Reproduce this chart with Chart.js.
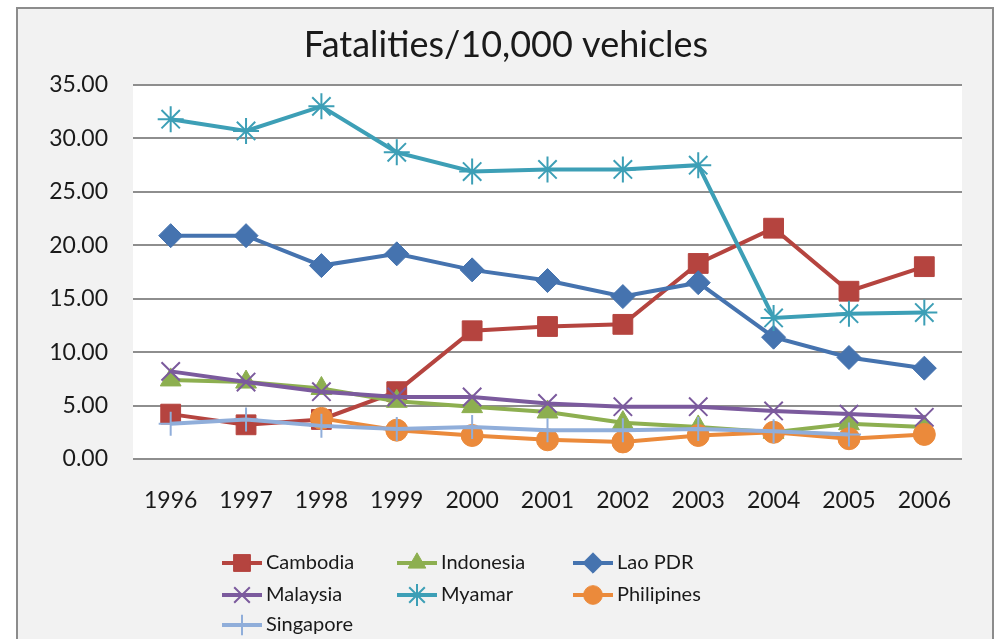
<!DOCTYPE html>
<html>
<head>
<meta charset="utf-8">
<script src="https://cdn.jsdelivr.net/npm/chart.js@4/dist/chart.umd.min.js"></script>
<style>
    body { margin: 0; background: #ffffff; overflow: hidden; }
    #frame {
        position: absolute; left: 16px; top: 7px; width: 974px; height: 640px;
        border: 2px solid #8c8c8c; background: #f2f2f2;
    }
    #fatalitiesChart { position: absolute; left: 0; top: 0; }
</style>
</head>
<body>
<div id="frame"></div>
<canvas id="fatalitiesChart" width="994" height="639"></canvas>
<script>
// Fatalities per 10,000 vehicles, ASEAN countries 1996-2006

const years = ['1996', '1997', '1998', '1999', '2000', '2001', '2002', '2003', '2004', '2005', '2006'];

const cambodia   = [4.2, 3.2, 3.7, 6.3, 12.0, 12.4, 12.6, 18.3, 21.6, 15.7, 18.0];
const indonesia  = [7.4, 7.2, 6.6, 5.4, 4.9, 4.4, 3.4, 3.0, 2.5, 3.3, 3.0];
const laoPdr     = [20.9, 20.9, 18.1, 19.2, 17.7, 16.7, 15.2, 16.5, 11.4, 9.5, 8.5];
const malaysia   = [8.2, 7.2, 6.3, 5.8, 5.8, 5.2, 4.9, 4.9, 4.5, 4.2, 3.9];
const myamar     = [31.8, 30.7, 33.0, 28.7, 26.9, 27.1, 27.1, 27.5, 13.2, 13.6, 13.7];
const philipines = [null, null, 3.8, 2.7, 2.2, 1.8, 1.6, 2.2, 2.5, 1.9, 2.3];
const singapore  = [3.3, 3.7, 3.1, 2.8, 3.0, 2.7, 2.7, 2.8, 2.6, 2.3, null];

const yTicks = [0, 5, 10, 15, 20, 25, 30, 35];

const chartTitle = 'Fatalities/10,000 vehicles';

const FONT = 'Lato, "Open Sans", sans-serif';
const TEXT = '#1a1a1a';

function series(label, data, color, pointStyle, radius, filled, order) {
    return {
        label: label,
        data: data,
        borderColor: color,
        backgroundColor: color,
        borderWidth: 4,
        pointStyle: pointStyle,
        pointRadius: radius,
        pointHoverRadius: radius,
        pointBackgroundColor: filled ? color : 'transparent',
        pointBorderColor: color,
        pointBorderWidth: filled ? 1 : 2,
        tension: 0,
        spanGaps: false,
        order: order
    };
}

// white plot area behind the lines, and the title over it
const plotBackground = {
    id: 'plotBackground',
    beforeDraw(chart) {
        const a = chart.chartArea;
        const ctx = chart.ctx;
        ctx.save();
        ctx.fillStyle = '#ffffff';
        ctx.fillRect(a.left, a.top, a.right - a.left, a.bottom - a.top);
        ctx.fillStyle = TEXT;
        ctx.font = '36px ' + FONT;
        ctx.textAlign = 'center';
        ctx.textBaseline = 'middle';
        ctx.fillText(chartTitle, 506, 45);
        ctx.restore();
    }
};

// three-column legend like the spreadsheet one
const gridLegend = {
    id: 'gridLegend',
    afterDraw(chart) {
        const ctx = chart.ctx;
        const colX = [222, 397, 573];
        const rowY = [563, 595, 625];
        chart.data.datasets.forEach(function (ds, i) {
            const x = colX[i % 3];
            const y = rowY[Math.floor(i / 3)];
            ctx.save();
            ctx.strokeStyle = ds.borderColor;
            ctx.lineWidth = 4;
            ctx.beginPath();
            ctx.moveTo(x, y);
            ctx.lineTo(x + 40, y);
            ctx.stroke();
            ctx.fillStyle = ds.pointBackgroundColor;
            ctx.strokeStyle = ds.pointBorderColor;
            ctx.lineWidth = ds.pointBorderWidth;
            Chart.helpers.drawPoint(ctx, {
                pointStyle: ds.pointStyle,
                radius: ds.pointRadius * 0.85,
                rotation: 0,
                borderWidth: ds.pointBorderWidth
            }, x + 20, y);
            ctx.fillStyle = TEXT;
            ctx.font = '20px ' + FONT;
            ctx.textBaseline = 'middle';
            ctx.textAlign = 'left';
            ctx.fillText(ds.label, x + 44, y);
            ctx.restore();
        });
    }
};

const canvas = document.getElementById('fatalitiesChart');

new Chart(canvas, {
    type: 'line',
    data: {
        labels: years,
        datasets: [
            series('Cambodia', cambodia, '#B5443F', 'rect', 14, true, 7),
            series('Indonesia', indonesia, '#8DAF50', 'triangle', 12, true, 6),
            series('Lao PDR', laoPdr, '#4573AF', 'rectRot', 12, true, 5),
            series('Malaysia', malaysia, '#7B5A9D', 'crossRot', 13, false, 4),
            series('Myamar', myamar, '#3D9FB6', 'star', 13, false, 3),
            series('Philipines', philipines, '#EB8A3B', 'circle', 11, true, 2),
            series('Singapore', singapore, '#90AEDA', 'cross', 12, false, 1)
        ]
    },
    options: {
        responsive: false,
        devicePixelRatio: 1,
        animation: false,
        layout: {
            padding: { left: 0, right: 32, top: 85, bottom: 0 }
        },
        plugins: {
            legend: { display: false },
            tooltip: { enabled: false },
            title: { display: false }
        },
        scales: {
            x: {
                offset: true,
                grid: { display: false, drawTicks: false },
                border: { display: false },
                ticks: {
                    color: TEXT,
                    font: { family: FONT, size: 23 },
                    padding: 28,
                    maxRotation: 0
                },
                afterFit(scale) { scale.height = 180; }
            },
            y: {
                min: 0,
                max: 35,
                afterBuildTicks(scale) {
                    scale.ticks = yTicks.map(function (v) { return { value: v }; });
                },
                grid: { color: '#8e8e8e', lineWidth: 2, drawTicks: false },
                border: { display: false },
                ticks: {
                    color: TEXT,
                    font: { family: FONT, size: 23 },
                    padding: 25,
                    callback: function (v) { return Number(v).toFixed(2); }
                },
                afterFit(scale) { scale.width = 133; }
            }
        }
    },
    plugins: [plotBackground, gridLegend]
});
</script>
</body>
</html>
